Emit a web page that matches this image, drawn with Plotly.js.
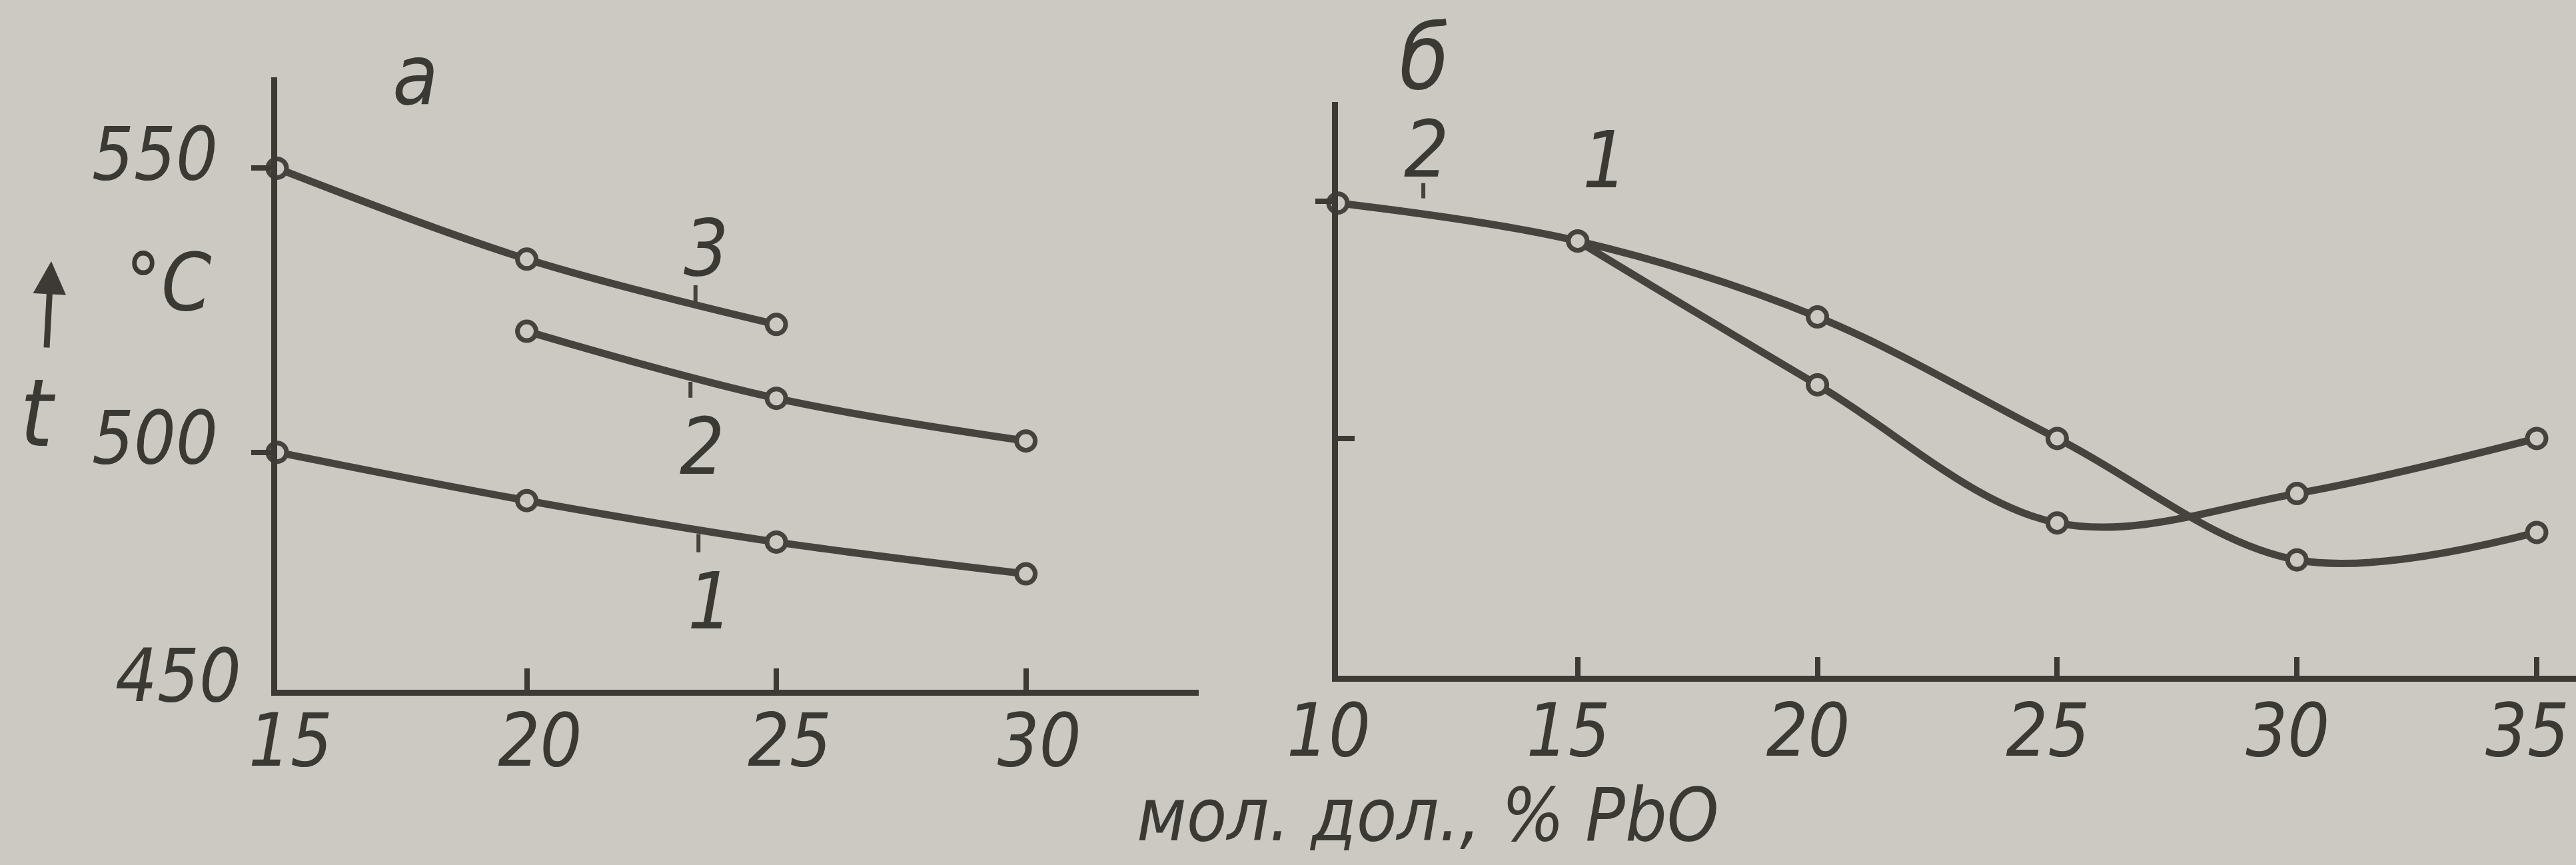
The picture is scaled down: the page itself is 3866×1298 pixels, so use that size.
<!DOCTYPE html>
<html>
<head>
<meta charset="utf-8">
<script src="https://cdn.plot.ly/plotly-3.0.1.min.js"></script>
<style>
  html, body { margin: 0; padding: 0; background: #cbc9c2; }
  #chart { width: 3866px; height: 1298px; }
</style>
</head>
<body>
<div id="chart"></div>
<script>
// ---- Panel "а" (left): t, °C vs mol. %, PbO ----
const a_curve1_x = [15, 20, 25, 30];
const a_curve1_y = [500, 491.5, 484.2, 478.6];
const a_curve2_x = [20, 25, 30];
const a_curve2_y = [521.3, 509.5, 502.0];
const a_curve3_x = [15, 20, 25];
const a_curve3_y = [550, 534.0, 522.5];

// ---- Panel "б" (right) ----
const b_curve2_x = [10, 15, 20, 25, 30, 35];
const b_curve2_y = [549.6, 541.6, 525.6, 500.0, 474.4, 480.2];
const b_curve1_x = [15, 20, 25, 30, 35];
const b_curve1_y = [541.6, 511.3, 482.2, 488.4, 500.0];

// ---- tick labels ----
const a_xticks = [15, 20, 25, 30];
const a_yticks = [500, 550];
const a_yticktext = ['500', '550'];
const a_ybottomLabel = '450';
const b_xticks = [10, 15, 20, 25, 30, 35];
const b_yticks_major = [500];
const b_yticks_minor = [550];

// ---- curve labels: [text, x, y] and leader ticks [x, y0, y1] ----
const a_labels = [['3', 23.6, 536.0], ['2', 23.52, 501.0], ['1', 23.68, 473.8]];
const a_leaders = [[23.38, 526.3, 529.4], [23.28, 509.6, 512.4], [23.44, 482.4, 485.6]];
const b_labels = [['2', 11.85, 561.0], ['1', 15.57, 558.7]];
const b_leaders = [[11.78, 550.6, 553.8]];

const ink = '#46433e';
const axisInk = '#3d3a35';
const bg = '#cbc9c2';
const FONT = '"Liberation Sans Narrow", "DejaVu Sans Condensed", "Roboto Condensed", sans-serif';
const tickFont = {family: FONT, size: 110, color: '#3b3934', style: 'italic'};

function curve(x, y, xa, ya) {
  return {
    x: x, y: y, xaxis: xa, yaxis: ya, type: 'scatter', mode: 'lines+markers',
    line: {color: ink, width: 11, shape: 'spline', smoothing: 1},
    marker: {symbol: 'circle', size: 28, color: bg, line: {color: ink, width: 7}},
    cliponaxis: false, hoverinfo: 'skip'
  };
}

const data = [
  curve(a_curve1_x, a_curve1_y, 'x', 'y'),
  curve(a_curve2_x, a_curve2_y, 'x', 'y'),
  curve(a_curve3_x, a_curve3_y, 'x', 'y'),
  curve(b_curve2_x, b_curve2_y, 'x2', 'y2'),
  curve(b_curve1_x, b_curve1_y, 'x2', 'y2')
];

const annotations = [];
const labFont = {family: FONT, size: 118, color: '#3b3934', style: 'italic'};
a_labels.forEach(l => annotations.push({
  x: l[1], y: l[2], xref: 'x', yref: 'y', text: l[0], showarrow: false,
  xanchor: 'center', yanchor: 'middle', font: labFont
}));
b_labels.forEach(l => annotations.push({
  x: l[1], y: l[2], xref: 'x2', yref: 'y2', text: l[0], showarrow: false,
  xanchor: 'center', yanchor: 'middle', font: labFont
}));
const textFont = (s) => ({family: FONT, size: s, color: '#3b3934', style: 'italic'});
function paperText(x, y, text, size) {
  return {xref: 'paper', yref: 'paper', x: x, y: y, text: text, showarrow: false,
          xanchor: 'center', yanchor: 'middle', font: textFont(size)};
}
annotations.push(
  paperText(0.1614, 0.9137, 'а', 125),
  paperText(0.5530, 0.9330, 'б', 135),
  paperText(0.0147, 0.5223, 't', 140),
  paperText(0.0654, 0.6741, '°C', 120),
  paperText(0.0691, 0.2188, a_ybottomLabel, 110),
  paperText(0.5543, 0.058, 'мол. дол., % PbO', 110),
  {xref: 'paper', yref: 'paper', x: 0.0199, y: 0.698, text: '', showarrow: true,
   ax: -7, ay: 131, arrowhead: 2, arrowsize: 1.1, arrowwidth: 9, arrowcolor: axisInk}
);

const shapes = [];
a_leaders.forEach(t => shapes.push({type: 'line', xref: 'x', yref: 'y', x0: t[0], x1: t[0], y0: t[1], y1: t[2],
  line: {color: ink, width: 6}}));
b_leaders.forEach(t => shapes.push({type: 'line', xref: 'x2', yref: 'y2', x0: t[0], x1: t[0], y0: t[1], y1: t[2],
  line: {color: ink, width: 6}}));

const baseAxis = {
  showline: true, linecolor: axisInk, linewidth: 9, showgrid: false, zeroline: false,
  tickcolor: axisInk, tickwidth: 8, tickfont: tickFont, fixedrange: true,
  ticklabeloverflow: 'allow'
};

const layout = {
  width: 3866, height: 1298,
  margin: {l: 0, r: 0, t: 0, b: 0, pad: 0},
  paper_bgcolor: bg, plot_bgcolor: 'rgba(0,0,0,0)',
  showlegend: false,
  xaxis: Object.assign({}, baseAxis, {
    domain: [0.1076, 0.4653], range: [15, 33.46], anchor: 'y',
    tickmode: 'array', tickvals: a_xticks, ticktext: a_xticks.map(String),
    ticks: 'inside', ticklen: 32, ticklabelshift: 20, ticklabelstandoff: -27
  }),
  yaxis: Object.assign({}, baseAxis, {
    domain: [0.2026, 0.9106], range: [458.2, 566], anchor: 'x',
    tickmode: 'array', tickvals: a_yticks, ticktext: a_yticktext,
    ticks: 'outside', ticklen: 30, ticklabelstandoff: 28, ticklabelshift: -22
  }),
  xaxis2: Object.assign({}, baseAxis, {
    domain: [0.5194, 1], range: [10, 35.82], anchor: 'y2',
    tickmode: 'array', tickvals: b_xticks, ticktext: b_xticks.map(String),
    ticks: 'inside', ticklen: 28, ticklabelshift: -14, ticklabelstandoff: -21
  }),
  yaxis2: Object.assign({}, baseAxis, {
    domain: [0.2188, 0.8821], range: [450, 570.9], anchor: 'x2',
    tickmode: 'array', tickvals: b_yticks_major, ticks: 'inside', ticklen: 25,
    showticklabels: false,
    minor: {tickmode: 'array', tickvals: b_yticks_minor, ticks: 'outside', ticklen: 25, tickwidth: 8, tickcolor: axisInk}
  }),
  annotations: annotations,
  shapes: shapes
};

Plotly.newPlot('chart', data, layout, {staticPlot: true, displayModeBar: false});
</script>
</body>
</html>
